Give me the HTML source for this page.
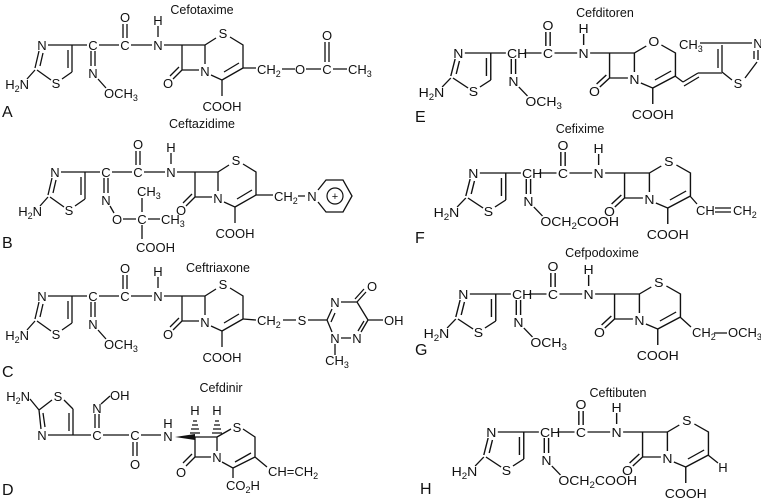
<!DOCTYPE html>
<html><head><meta charset="utf-8"><style>
html,body{margin:0;padding:0;background:#fff}
svg{display:block}
text{font-family:"Liberation Sans",Arial,sans-serif;font-size:13px;fill:#111;text-anchor:middle}
.t{font-size:12.5px}
.l{font-size:16px;text-anchor:start}
.s{text-anchor:start}
.e{text-anchor:end}
path,line,polyline{stroke:#111;stroke-width:1.3;fill:none}
</style></head><body>
<svg width="761" height="499" viewBox="0 0 761 499" xmlns="http://www.w3.org/2000/svg">

<!-- ============ A Cefotaxime ============ -->
<text class="t" x="202" y="14">Cefotaxime</text>
<text class="l" x="2" y="117">A</text>
<g transform="translate(0,0)">
<path d="M48 45H72V72 M68 50V68 M72 72L62 79 M51 80L37 70 M39 51L35 68 M43 53L40 66 M35 70L27 79 M72 45H87 M91 51V66 M95 51V66 M98 79L106 88 M99 45H119 M131 45H152 M158 26V37 M164 45H182 M182 45H205 M182 45V70H199 M205 45V64 M182 70L173 79 M179 67L170 76 M205 45L216 38 M230 37L243 45V68 M243 68L222 80 M239 63L224 72 M211 75L222 80V96 M123 24V38 M127 24V38"/>
<text x="42" y="50">N</text><text x="56" y="88">S</text>
<text class="e" x="29" y="89">H<tspan font-size="9" dy="3">2</tspan><tspan dy="-3">N</tspan></text>
<text x="93" y="50">C</text><text x="93" y="78">N</text>
<text class="s" x="104" y="98">OCH<tspan font-size="9" dy="3">3</tspan></text>
<text x="125" y="50">C</text><text x="125" y="22">O</text>
<text x="158" y="50">N</text><text x="158" y="25">H</text>
<text x="205" y="76">N</text><text x="168" y="88">O</text>
<text x="223" y="38">S</text><text x="222" y="111">COOH</text>
</g>
<path d="M243 68H256 M282 69H295 M306 69H321 M333 69H347 M325 42V62 M329 42V62"/>
<text class="s" x="257" y="74">CH<tspan font-size="9" dy="3">2</tspan></text>
<text x="300" y="74">O</text><text x="327" y="74">C</text><text x="327" y="40">O</text>
<text class="s" x="348" y="74">CH<tspan font-size="9" dy="3">3</tspan></text>

<!-- ============ B Ceftazidime ============ -->
<text class="t" x="202" y="128">Ceftazidime</text>
<text class="l" x="2" y="248">B</text>
<g transform="translate(13,127)">
<path d="M48 45H72V72 M68 50V68 M72 72L62 79 M51 80L37 70 M39 51L35 68 M43 53L40 66 M35 70L27 79 M72 45H87 M91 51V66 M95 51V66 M99 45H119 M131 45H152 M158 26V37 M164 45H182 M182 45H205 M182 45V70H199 M205 45V64 M182 70L173 79 M179 67L170 76 M205 45L216 38 M230 37L243 45V68 M243 68L222 80 M239 63L224 72 M211 75L222 80V96 M123 24V38 M127 24V38"/>
<text x="42" y="50">N</text><text x="56" y="88">S</text>
<text class="e" x="29" y="89">H<tspan font-size="9" dy="3">2</tspan><tspan dy="-3">N</tspan></text>
<text x="93" y="50">C</text><text x="93" y="78">N</text>
<text x="125" y="50">C</text><text x="125" y="22">O</text>
<text x="158" y="50">N</text><text x="158" y="25">H</text>
<text x="205" y="76">N</text><text x="168" y="88">O</text>
<text x="223" y="38">S</text><text x="222" y="111">COOH</text>
</g>
<path d="M110 206L114 213 M123 219H136 M142 212V198 M148 219H160 M142 225V239 M256 195H273 M298 196H305"/>
<text x="117" y="224">O</text><text x="142" y="224">C</text>
<text class="s" x="137" y="196">CH<tspan font-size="9" dy="3">3</tspan></text>
<text class="s" x="161" y="224">CH<tspan font-size="9" dy="3">3</tspan></text>
<text class="s" x="136" y="252">COOH</text>
<text class="s" x="274" y="201">CH<tspan font-size="9" dy="3">2</tspan></text>
<text x="312" y="201">N</text>
<path d="M318 190L326 180H343L352 196L343 212H326L318 202"/>
<circle cx="335" cy="196" r="8" stroke="#111" stroke-width="1.2" fill="none"/>
<text x="335" y="200" style="font-size:11px">+</text>

<!-- ============ C Ceftriaxone ============ -->
<text class="t" x="218" y="272">Ceftriaxone</text>
<text class="l" x="2" y="377">C</text>
<g transform="translate(0,251)">
<path d="M48 45H72V72 M68 50V68 M72 72L62 79 M51 80L37 70 M39 51L35 68 M43 53L40 66 M35 70L27 79 M72 45H87 M91 51V66 M95 51V66 M98 79L106 88 M99 45H119 M131 45H152 M158 26V37 M164 45H182 M182 45H205 M182 45V70H199 M205 45V64 M182 70L173 79 M179 67L170 76 M205 45L216 38 M230 37L243 45V68 M243 68L222 80 M239 63L224 72 M211 75L222 80V96 M123 24V38 M127 24V38"/>
<text x="42" y="50">N</text><text x="56" y="88">S</text>
<text class="e" x="29" y="89">H<tspan font-size="9" dy="3">2</tspan><tspan dy="-3">N</tspan></text>
<text x="93" y="50">C</text><text x="93" y="78">N</text>
<text class="s" x="104" y="98">OCH<tspan font-size="9" dy="3">3</tspan></text>
<text x="125" y="50">C</text><text x="125" y="22">O</text>
<text x="158" y="50">N</text><text x="158" y="25">H</text>
<text x="205" y="76">N</text><text x="168" y="88">O</text>
<text x="223" y="38">S</text><text x="222" y="111">COOH</text>
</g>
<path d="M243 319L256 320 M283 320H296 M308 320H322 M322 320H327 L332 309 M331 322L335 313 M341 302H357 M357 302L366 292 M355 299L364 289 M357 302L368 320 M368 320L361 332 M364 321L358 331 M351 338H341 M332 332L327 320 M335 344V355 M368 320H383"/>
<text class="s" x="257" y="325">CH<tspan font-size="9" dy="3">2</tspan></text>
<text x="302" y="325">S</text>
<text x="335" y="307">N</text><text x="372" y="291">O</text>
<text x="357" y="343">N</text><text x="335" y="343">N</text>
<text x="337" y="365">CH<tspan font-size="9" dy="3">3</tspan></text>
<text class="s" x="384" y="325">OH</text>

<!-- ============ D Cefdinir ============ -->
<text class="t" x="221" y="392">Cefdinir</text>
<text class="l" x="2" y="495">D</text>
<path d="M30 399L39 410 M39 410L52 400 M64 400L73 409 M73 409V435 M69 413V431 M39 410L41 429 M43 413L45 427 M48 435H73 M73 435H91 M95 428V414 M99 428V414 M101 404L110 396 M103 435H129 M133 442V456 M137 442V456 M141 435H161 M195 437H217 M195 437V457H211 M217 437V451 M195 457L186 466 M192 454L183 463 M217 437L231 429 M243 429L255 437V457 M255 457L233 468 M251 453L235 462 M222 462L233 468V478 M255 457L267 467"/>
<text class="e" x="30" y="401">H<tspan font-size="9" dy="3">2</tspan><tspan dy="-3">N</tspan></text>
<text x="58" y="401">S</text><text x="42" y="440">N</text>
<text x="97" y="440">C</text><text x="97" y="413">N</text>
<text class="s" x="110" y="400">OH</text>
<text x="135" y="440">C</text><text x="135" y="469">O</text>
<text x="168" y="441">N</text><text x="168" y="428">H</text>
<polygon points="175,437 195,434 195,440" fill="#111"/>
<text x="195" y="415">H</text><text x="217" y="415">H</text>
<path d="M193 421H197 M192 425H198 M191 429H199 M190 433H200 M215 421H219 M214 425H220 M213 429H221 M212 433H222" stroke-width="1"/>
<text x="217" y="462">N</text><text x="181" y="477">O</text>
<text x="237" y="432">S</text>
<text class="s" x="226" y="490">CO<tspan font-size="9" dy="3">2</tspan><tspan dy="-3">H</tspan></text>
<text class="s" x="268" y="476">CH=CH<tspan font-size="9" dy="3">2</tspan></text>

<!-- ============ E Cefditoren ============ -->
<text class="t" x="605" y="17">Cefditoren</text>
<text class="l" x="415" y="122">E</text>
<g transform="translate(413,8) scale(1.08,1)">
<path d="M48 45H72V72 M68 50V68 M72 72L62 79 M51 80L37 70 M39 51L35 68 M43 53L40 66 M35 70L27 79 M72 45H86 M91 51V66 M95 51V66 M98 79L106 88 M103 45H119 M131 45H152 M158 26V37 M164 45H182 M182 45H205 M182 45V70H199 M205 45V64 M182 70L173 79 M179 67L170 76 M205 45L216 38 M230 37L243 45V68 M243 68L222 80 M239 63L224 72 M211 75L222 80V96 M123 24V38 M127 24V38"/>
<text x="42" y="50">N</text><text x="56" y="88">S</text>
<text class="e" x="29" y="89">H<tspan font-size="9" dy="3">2</tspan><tspan dy="-3">N</tspan></text>
<text class="s" x="87" y="50">CH</text><text x="93" y="78">N</text>
<text class="s" x="104" y="98">OCH<tspan font-size="9" dy="3">3</tspan></text>
<text x="125" y="50">C</text><text x="125" y="22">O</text>
<text x="158" y="50">N</text><text x="158" y="25">H</text>
<text x="205" y="76">N</text><text x="168" y="88">O</text>
<text x="223" y="38">O</text><text x="222" y="111">COOH</text>
</g>
<path d="M675 76L683 82 M683 82L698 73 M684 86L699 77 M698 73H722 M722 72V45 M718 68V49 M700 43H722 M722 43H752 M758 50V60 M754 51V59 M757 62L745 78 M722 72L732 80"/>
<text class="s" x="679" y="49">CH<tspan font-size="9" dy="3">3</tspan></text>
<text x="758" y="48">N</text><text x="738" y="88">S</text>

<!-- ============ F Cefixime ============ -->
<text class="t" x="580" y="133">Cefixime</text>
<text class="l" x="415" y="243">F</text>
<g transform="translate(428,128) scale(1.08,1)">
<path d="M48 45H72V72 M68 50V68 M72 72L62 79 M51 80L37 70 M39 51L35 68 M43 53L40 66 M35 70L27 79 M72 45H86 M91 51V66 M95 51V66 M98 79L106 88 M103 45H119 M131 45H152 M158 26V37 M164 45H182 M182 45H205 M182 45V70H199 M205 45V64 M182 70L173 79 M179 67L170 76 M205 45L216 38 M230 37L243 45V68 M243 68L222 80 M239 63L224 72 M211 75L222 80V96 M123 24V38 M127 24V38"/>
<text x="42" y="50">N</text><text x="56" y="88">S</text>
<text class="e" x="29" y="89">H<tspan font-size="9" dy="3">2</tspan><tspan dy="-3">N</tspan></text>
<text class="s" x="87" y="50">CH</text><text x="93" y="78">N</text>
<text class="s" x="104" y="98">OCH<tspan font-size="9" dy="3">2</tspan><tspan dy="-3">COOH</tspan></text>
<text x="125" y="50">C</text><text x="125" y="22">O</text>
<text x="158" y="50">N</text><text x="158" y="25">H</text>
<text x="205" y="76">N</text><text x="168" y="88">O</text>
<text x="223" y="38">S</text><text x="222" y="111">COOH</text>
</g>
<path d="M690 196L697 204 M715 208H731 M715 212H731"/>
<text class="s" x="696" y="215">CH</text>
<text class="s" x="733" y="215">CH<tspan font-size="9" dy="3">2</tspan></text>

<!-- ============ G Cefpodoxime ============ -->
<text class="t" x="602" y="257">Cefpodoxime</text>
<text class="l" x="415" y="355">G</text>
<g transform="translate(418,249) scale(1.08,1)">
<path d="M48 45H72V72 M68 50V68 M72 72L62 79 M51 80L37 70 M39 51L35 68 M43 53L40 66 M35 70L27 79 M72 45H86 M91 51V66 M95 51V66 M98 79L106 88 M103 45H119 M131 45H152 M158 26V37 M164 45H182 M182 45H205 M182 45V70H199 M205 45V64 M182 70L173 79 M179 67L170 76 M205 45L216 38 M230 37L243 45V68 M243 68L222 80 M239 63L224 72 M211 75L222 80V96 M123 24V38 M127 24V38"/>
<text x="42" y="50">N</text><text x="56" y="88">S</text>
<text class="e" x="29" y="89">H<tspan font-size="9" dy="3">2</tspan><tspan dy="-3">N</tspan></text>
<text class="s" x="87" y="50">CH</text><text x="93" y="78">N</text>
<text class="s" x="104" y="98">OCH<tspan font-size="9" dy="3">3</tspan></text>
<text x="125" y="50">C</text><text x="125" y="22">O</text>
<text x="158" y="50">N</text><text x="158" y="25">H</text>
<text x="205" y="76">N</text><text x="168" y="88">O</text>
<text x="223" y="38">S</text><text x="222" y="111">COOH</text>
</g>
<path d="M680 317L691 327 M714 333H727"/>
<text class="s" x="692" y="337">CH<tspan font-size="9" dy="3">2</tspan></text>
<text class="s" x="728" y="337">OCH<tspan font-size="9" dy="3">3</tspan></text>

<!-- ============ H Ceftibuten ============ -->
<text class="t" x="618" y="397">Ceftibuten</text>
<text class="l" x="420" y="494">H</text>
<g transform="translate(446,387) scale(1.08,1)">
<path d="M48 45H72V72 M68 50V68 M72 72L62 79 M51 80L37 70 M39 51L35 68 M43 53L40 66 M35 70L27 79 M72 45H86 M91 51V66 M95 51V66 M98 79L106 88 M103 45H119 M131 45H152 M158 26V37 M164 45H182 M182 45H205 M182 45V70H199 M205 45V64 M182 70L173 79 M179 67L170 76 M205 45L216 38 M230 37L243 45V68 M243 68L222 80 M239 63L224 72 M211 75L222 80V96 M123 24V38 M127 24V38"/>
<text x="42" y="50">N</text><text x="56" y="88">S</text>
<text class="e" x="29" y="89">H<tspan font-size="9" dy="3">2</tspan><tspan dy="-3">N</tspan></text>
<text class="s" x="87" y="50">CH</text><text x="93" y="78">N</text>
<text class="s" x="104" y="98">OCH<tspan font-size="9" dy="3">2</tspan><tspan dy="-3">COOH</tspan></text>
<text x="125" y="50">C</text><text x="125" y="22">O</text>
<text x="158" y="50">N</text><text x="158" y="25">H</text>
<text x="205" y="76">N</text><text x="168" y="88">O</text>
<text x="223" y="38">S</text><text x="222" y="111">COOH</text>
</g>
<path d="M708 455L718 463"/>
<text x="723" y="472">H</text>
</svg>
</body></html>
